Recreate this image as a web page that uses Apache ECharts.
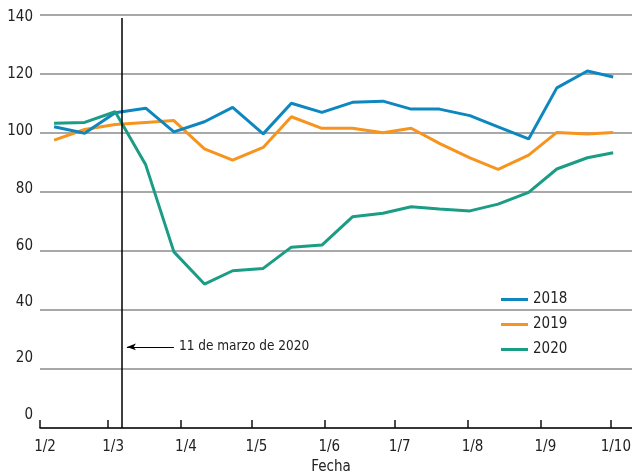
<!DOCTYPE html>
<html>
<head>
<meta charset="utf-8">
<script src="https://cdn.jsdelivr.net/npm/echarts@6/dist/echarts.min.js"></script>
<style>
html,body{margin:0;padding:0;background:#fff;}
#main{width:632px;height:476px;}
</style>
</head>
<body>
<div id="main"></div>
<script>
const FONT = "'DejaVu Sans Condensed',sans-serif";

// fechas de cada punto
const dates = ['2020-02-07','2020-02-20','2020-03-04','2020-03-17','2020-03-29',
    '2020-04-11','2020-04-23','2020-05-06','2020-05-18','2020-05-31',
    '2020-06-13','2020-06-26','2020-07-08','2020-07-20','2020-08-02',
    '2020-08-14','2020-08-27','2020-09-08','2020-09-21','2020-10-02'];
const y2018 = [102.1,99.9,106.9,108.4,100.4,103.8,108.7,99.7,110.1,107.0,
    110.4,110.8,108.1,108.1,105.9,102.1,98.0,115.3,121.0,119.0];
const y2019 = [97.6,101.2,102.9,103.6,104.2,94.6,90.8,95.1,105.5,101.6,
    101.6,100.1,101.6,96.5,91.6,87.7,92.5,100.2,99.7,100.2];
const y2020 = [103.3,103.6,107.2,89.2,59.7,48.8,53.3,54.1,61.3,62.0,
    71.6,72.8,75.0,74.2,73.6,75.9,79.9,87.8,91.6,93.3];
const years = ['2018','2019','2020'];
const colors = ['#0e87bf','#f7941e','#1b9c85'];
const eventDate = '2020-03-07';
const eventText = '11 de marzo de 2020';

// desplazamiento vertical de las etiquetas del eje y (px hacia arriba)
const yLabelShift = {0: 13, 20: 11, 40: 8, 60: 5, 80: 3, 100: 2, 120: 0, 140: -2};
let yRich = {};
Object.keys(yLabelShift).forEach(k => {
    let s = yLabelShift[k];
    yRich['v' + k] = {
        fontFamily: FONT, fontSize: 15, color: '#222',
        padding: s >= 0 ? [0, 0, 2 * s, 0] : [-2 * s, 0, 0, 0]
    };
});

function pairs(vals) {
    return dates.map((d, i) => [d, vals[i]]);
}

let myChart = echarts.init(document.getElementById('main'));
let option = {
    animation: false,
    color: colors,
    textStyle: {fontFamily: FONT},
    grid: {left: 40, right: 0, top: 15, bottom: 48, containLabel: false, outerBoundsMode: 'none'},
    legend: {
        orient: 'vertical',
        left: 496,
        top: 287,
        itemWidth: 27,
        itemHeight: 3,
        itemGap: 10,
        icon: 'rect',
        data: years,
        textStyle: {fontFamily: FONT, fontSize: 15, color: '#222'}
    },
    xAxis: {
        type: 'time',
        min: '2020-02-01',
        max: '2020-10-10',
        splitNumber: 9,
        minInterval: 28 * 86400000,
        maxInterval: 31 * 86400000,
        name: 'Fecha',
        nameLocation: 'middle',
        nameGap: 32,
        nameTextStyle: {fontFamily: FONT, fontSize: 15, color: '#222', padding: [0, 10, 0, 0]},
        axisLine: {lineStyle: {color: '#111', width: 1.5}},
        axisTick: {show: true, inside: true, length: 8, lineStyle: {color: '#111', width: 1.5}},
        splitLine: {show: false},
        axisLabel: {
            formatter: '{d}/{M}',
            fontFamily: FONT, fontSize: 15, color: '#222', margin: 12,
            padding: [0, 0, 0, 10],
            showMaxLabel: false
        }
    },
    yAxis: {
        type: 'value',
        min: 0,
        max: 140,
        interval: 20,
        axisLine: {show: false},
        axisTick: {show: false},
        splitLine: {lineStyle: {color: '#a8a8a8', width: 2}},
        axisLabel: {
            margin: 7,
            formatter: v => '{v' + v + '|' + v + '}',
            rich: yRich
        }
    },
    series: [{
        name: '2019', type: 'line', data: pairs(y2019), showSymbol: false,
        lineStyle: {width: 3, color: colors[1]}, itemStyle: {color: colors[1]}, z: 2
    }, {
        name: '2018', type: 'line', data: pairs(y2018), showSymbol: false,
        lineStyle: {width: 3, color: colors[0]}, itemStyle: {color: colors[0]}, z: 3
    }, {
        name: '2020', type: 'line', data: pairs(y2020), showSymbol: false,
        lineStyle: {width: 3, color: colors[2]}, itemStyle: {color: colors[2]}, z: 4,
        markLine: {
            silent: true,
            animation: false,
            data: [
                [{coord: [eventDate, 139], symbol: 'none', lineStyle: {color: '#000', width: 1.5, type: 'solid'}, label: {show: false}},
                 {coord: [eventDate, 0], symbol: 'none'}],
                [{coord: ['2020-03-29', 27.5], symbol: 'none', lineStyle: {color: '#000', width: 1, type: 'solid'},
                  label: {show: true, position: 'start', formatter: eventText, distance: 5,
                          fontFamily: FONT, fontSize: 13.5, color: '#222'}},
                 {coord: ['2020-03-09', 27.5], symbol: 'arrow', symbolSize: [5, 9]}]
            ]
        }
    }]
};
myChart.setOption(option);
</script>
</body>
</html>
